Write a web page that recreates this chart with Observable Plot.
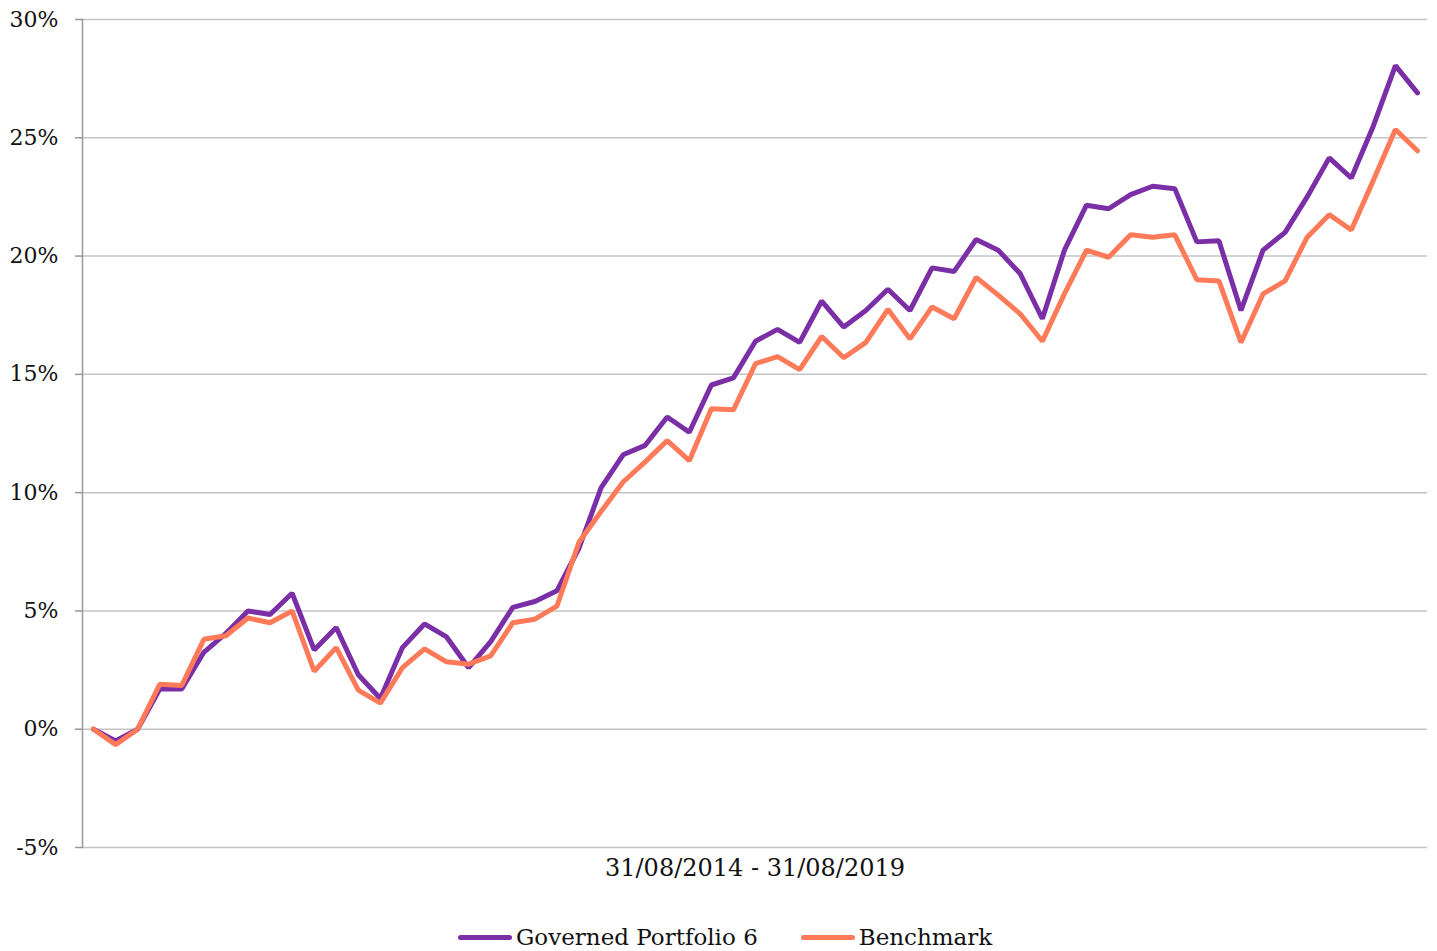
<!DOCTYPE html>
<html><head><meta charset="utf-8">
<script src="https://cdn.jsdelivr.net/npm/d3@7"></script>
<script src="https://cdn.jsdelivr.net/npm/@observablehq/plot@0.6"></script>
<style>
body{margin:0;background:#fff;font-family:"DejaVu Serif",serif;}
#legend{position:absolute;top:921px;left:458px;display:flex;align-items:center;font-size:23px;color:#111;height:32px;}
.item{display:flex;align-items:center;margin-right:43px}
.sw{width:54px;height:5px;border-radius:3px;margin-right:4px}
</style></head><body>
<div id="chart"></div>
<div id="legend"></div>
<script>
const periodLabel = "31/08/2014 - 31/08/2019";
const seriesNames = ["Governed Portfolio 6", "Benchmark"];
const seriesColors = ["#7B2FA6", "#FF7A59"];
const portfolio = [0, -0.5, 0, 1.7, 1.7, 3.25, 4.05, 5.0, 4.85, 5.75,
  3.35, 4.3, 2.3, 1.3, 3.45, 4.45, 3.9, 2.6, 3.7, 5.15,
  5.4, 5.85, 7.65, 10.2, 11.6, 12.0, 13.2, 12.55, 14.55, 14.85,
  16.4, 16.9, 16.35, 18.1, 17.0, 17.7, 18.6, 17.7, 19.5, 19.35,
  20.7, 20.25, 19.25, 17.35, 20.25, 22.15, 22.0, 22.6, 22.95, 22.85,
  20.6, 20.65, 17.7, 20.25, 21.0, 22.5, 24.15, 23.3, 25.5, 28.05, 26.9];
const benchmark = [0, -0.65, 0, 1.9, 1.85, 3.8, 3.95, 4.7, 4.5, 5.0,
  2.45, 3.45, 1.65, 1.1, 2.6, 3.4, 2.85, 2.75, 3.1, 4.5,
  4.65, 5.2, 7.9, 9.2, 10.45, 11.3, 12.2, 11.35, 13.55, 13.5,
  15.45, 15.75, 15.2, 16.6, 15.7, 16.35, 17.75, 16.5, 17.85, 17.35,
  19.1, 18.35, 17.55, 16.4, 18.4, 20.25, 19.95, 20.9, 20.8, 20.9,
  19.0, 18.95, 16.35, 18.4, 18.95, 20.8, 21.75, 21.1, 23.2, 25.35, 24.45];
const yTicks = [-5, 0, 5, 10, 15, 20, 25, 30];

const data = [];
portfolio.forEach((v, i) => data.push({i, v, s: seriesNames[0]}));
benchmark.forEach((v, i) => data.push({i, v, s: seriesNames[1]}));

const chart = Plot.plot({
  width: 1437, height: 905,
  marginLeft: 82, marginRight: 10, marginTop: 19, marginBottom: 58,
  style: {fontFamily: "DejaVu Serif", fontSize: "22px", color: "#111", background: "#fff"},
  x: {domain: [0, portfolio.length - 1], insetLeft: 11, insetRight: 10, axis: null},
  y: {domain: [-5, 30], label: null},
  color: {domain: seriesNames, range: seriesColors},
  marks: [
    Plot.gridY(yTicks, {stroke: "#c4c4c4", strokeOpacity: 1, strokeWidth: 1.5}),
    Plot.axisY(yTicks, {tickSize: 7, tickPadding: 17, tickFormat: d => d + "%", stroke: "#999", strokeWidth: 1.5, fontSize: 22, label: null}),
    Plot.frame({anchor: "left", stroke: "#999", strokeWidth: 1.5}),
    Plot.lineY(data, {x: "i", y: "v", z: "s", stroke: "s", strokeWidth: 5, strokeLinejoin: "miter"}),
    Plot.text([periodLabel], {frameAnchor: "bottom", lineAnchor: "middle", dy: 21, text: d => d, fontSize: 24, fill: "#111"})
  ]
});
document.getElementById("chart").append(chart);

const legend = document.getElementById("legend");
seriesNames.forEach((n, k) => {
  const item = document.createElement("div");
  item.className = "item";
  const sw = document.createElement("span");
  sw.className = "sw";
  sw.style.background = seriesColors[k];
  const t = document.createElement("span");
  t.textContent = n;
  item.append(sw, t);
  legend.append(item);
});
</script>
</body></html>
